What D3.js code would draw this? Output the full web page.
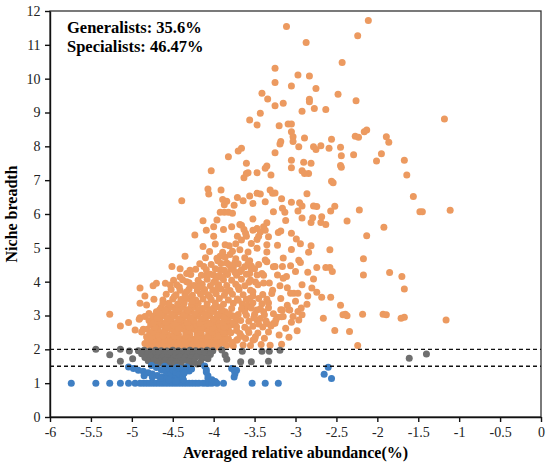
<!DOCTYPE html>
<html>
<head>
<meta charset="utf-8">
<script src="https://cdn.jsdelivr.net/npm/d3@7"></script>
<style>
  body { margin: 0; background: #fff; }
  svg text { font-family: "Liberation Serif", "Times New Roman", serif; }
  .tick text { font-size: 14px; fill: #222; }
  .tick line, .domain { stroke: #111; stroke-width: 1.4; }
</style>
</head>
<body>
<div id="chart"></div>
<script>
// Niche breadth vs averaged relative abundance

const xTicks = [-6, -5.5, -5, -4.5, -4, -3.5, -3, -2.5, -2, -1.5, -1, -0.5, 0];
const yTicks = [0, 1, 2, 3, 4, 5, 6, 7, 8, 9, 10, 11, 12];
const thresholds = [2, 1.5];
const labels = ["Generalists: 35.6%", "Specialists: 46.47%"];

// generalists (orange) - sparse outer points
const generalistsOuter = [
  [-3.11,11.54],[-2.11,11.72],[-2.24,11.27],[-2.87,11.07],[-2.43,10.48],[-3.25,10.31],[-2.97,10.11],[-2.83,10.08],
  [-3.25,9.89],[-3.05,9.78],[-2.75,9.71],[-3.41,9.57],[-2.48,9.54],[-3.34,9.40],[-2.26,9.35],[-2.83,9.39],[-2.83,9.32],
  [-3.15,9.27],[-3.25,9.20],[-2.77,9.12],[-2.63,9.09],[-2.92,9.04],[-3.43,8.98],[-1.18,8.81],[-3.56,8.78],[-3.20,8.61],
  [-3.09,8.66],[-3.05,8.66],[-3.47,8.63],[-3.05,8.43],[-2.16,8.43],[-2.13,8.48],[-3.03,8.28],[-2.27,8.30],[-2.23,8.27],
  [-1.89,8.28],[-2.89,8.25],[-2.56,8.21],[-3.03,8.14],[-3.18,8.14],[-3.19,8.07],[-1.86,8.12],[-2.69,8.02],[-2.96,7.99],
  [-2.78,7.99],[-2.45,7.97],[-3.66,7.94],[-2.59,7.94],[-2.75,7.91],[-3.70,7.86],[-3.25,7.81],[-1.95,7.78],[-2.29,7.75],
  [-2.44,7.72],[-3.82,7.69],[-1.67,7.59],[-3.05,7.59],[-2.01,7.57],[-2.90,7.53],[-2.81,7.50],[-3.60,7.50],[-2.45,7.43],
  [-3.35,7.42],[-2.44,7.38],[-3.05,7.37],[-3.37,7.35],[-4.03,7.28],[-2.92,7.28],[-3.47,7.22],[-3.58,7.22],[-2.84,7.20],
  [-2.89,7.20],[-3.60,7.20],[-1.64,7.15],[-3.30,7.15],[-3.63,7.07],[-2.56,6.97],[-2.54,6.92],[-4.07,6.74],[-3.31,6.71],
  [-3.91,6.71],[-3.25,6.62],[-3.28,6.61],[-3.47,6.61],[-2.86,6.60],[-4.06,6.59],[-3.43,6.59],[-3.56,6.53],[-1.56,6.52],
  [-3.71,6.49],[-3.17,6.45],[-3.89,6.43],[-4.39,6.39],[-3.64,6.39],[-3.84,6.38],[-3.37,6.36],[-3.05,6.35],[-2.95,6.33],
  [-3.52,6.31],[-3.87,6.27],[-3.75,6.26],[-2.92,6.24],[-2.78,6.24],[-2.52,6.23],[-2.74,6.22],[-3.16,6.17],[-2.22,6.12],
  [-1.11,6.11],[-2.57,6.09],[-2.97,6.09],[-3.27,6.07],[-1.48,6.07],[-1.45,6.07],[-3.13,6.05],[-3.92,6.05],[-3.87,6.05],
  [-3.82,6.05],[-3.77,6.02],[-2.68,5.92],[-2.79,5.89],[-2.92,5.88],[-3.52,5.85],[-3.96,5.82],[-3.12,5.81],[-4.13,5.80],
  [-2.37,5.79],[-2.69,5.75],[-2.81,5.75],[-3.35,5.74],[-2.63,5.69],[-3.68,5.69],[-3.66,5.67],[-3.39,5.62],[-4.00,5.62],
  [-3.78,5.62],[-1.92,5.61],[-3.47,5.57],[-3.88,5.54],[-3.63,5.54],[-4.09,5.52],[-3.52,5.52],[-3.37,5.52],[-3.18,5.50],
  [-3.43,5.47],[-3.21,5.45],[-3.05,5.43],[-3.61,5.43],[-2.13,5.36],[-4.23,5.38],[-4.00,5.34],[-3.71,5.34],[-3.60,5.34],
  [-3.45,5.34],[-3.33,5.33],[-2.99,5.26],[-3.47,5.25],[-3.66,5.23],[-3.54,5.13],[-2.94,5.12],[-3.35,5.09],[-3.22,5.08],
  [-2.81,5.06],[-3.81,5.06],[-4.13,5.04],[-3.47,4.99],[-2.58,4.94],[-3.68,4.94],[-2.84,4.87],[-4.35,4.75],[-3.92,4.75],
  [-2.17,4.68],[-3.37,4.64],[-2.96,4.63],[-3.56,4.62],[-3.35,4.59],[-2.94,4.57],[-3.74,4.57],[-3.84,4.55],[-3.58,4.54],
  [-3.06,4.47],[-3.54,4.46],[-3.16,4.45],[-3.25,4.45],[-4.51,4.45],[-3.27,4.44],[-2.74,4.42],[-2.63,4.42],[-2.58,4.42],
  [-3.76,4.42],[-3.54,4.39],[-4.41,4.38],[-3.92,4.35],[-2.55,4.30],[-3.68,4.29],[-2.85,4.28],[-1.85,4.27],[-3.41,4.24],
  [-3.56,4.24],[-2.17,4.20],[-4.00,4.20],[-3.39,4.19],[-1.70,4.15],[-3.11,4.15],[-3.15,4.10],[-2.78,4.08],[-4.49,4.04],
  [-4.33,4.00],[-3.49,3.99],[-3.32,3.96],[-3.39,3.96],[-4.17,3.95],[-4.59,3.95],[-4.70,3.95],[-2.92,3.91],[-4.53,3.90],
  [-3.19,3.88],[-4.74,3.88],[-2.80,3.81],[-4.90,3.81],[-1.67,3.78],[-3.52,3.70],[-2.74,3.69],[-3.06,3.66],[-3.02,3.66],
  [-2.97,3.66],[-3.29,3.65],[-2.85,3.58],[-4.84,3.58],[-2.68,3.54],[-2.57,3.54],[-3.56,3.50],[-4.73,3.48],[-4.62,3.46],
  [-3.70,3.45],[-3.33,3.37],[-4.90,3.36],[-2.86,3.33],[-4.82,3.31],[-3.58,3.30],[-2.45,3.30],[-3.60,3.25],[-3.18,3.17],
  [-3.08,3.17],[-4.66,3.17],[-3.16,3.16],[-3.07,3.16],[-3.47,3.16],[-2.97,3.12],[-3.39,3.11],[-4.79,3.06],[-5.27,3.04],
  [-2.39,3.04],[-2.18,3.04],[-1.93,3.04],[-2.42,3.02],[-2.92,3.02],[-1.89,3.02],[-4.70,3.02],[-2.37,2.99],[-3.03,2.97],
  [-3.15,2.97],[-3.17,2.96],[-1.67,2.95],[-4.84,2.97],[-4.90,2.93],[-2.66,2.92],[-1.71,2.92],[-3.43,2.91],[-4.91,2.89],
  [-1.16,2.87],[-2.96,2.87],[-4.76,2.79],[-5.04,2.79],[-3.25,2.77],[-3.27,2.76],[-3.35,2.76],[-3.84,2.71],[-5.14,2.69],
  [-4.86,2.59],[-4.96,2.57],[-2.52,2.56],[-3.72,2.56],[-2.34,2.53],[-4.88,2.51],[-4.74,2.48],[-3.49,2.37],[-4.82,2.37],
  [-3.08,2.36],[-4.73,2.28],[-3.52,2.27],[-3.72,2.27],[-3.86,2.17],[-4.84,2.17],[-3.17,2.15],[-3.31,2.12],[-2.24,2.11],
  [-4.41,4.14],[-4.33,4.24],[-4.29,4.34],[-4.09,4.19],[-3.95,4.14],[-3.85,4.24],
  [-3.20,2.42],[-3.12,2.62],[-3.05,2.80],[-2.98,2.55],[-3.22,2.95],[-3.10,3.30],[-3.00,3.42],[-2.93,3.22],[-3.18,3.50],
  [-3.28,3.75],[-3.10,3.82],[-3.22,4.20],[-3.00,4.30],[-3.35,4.88],[-3.15,4.70],[-3.05,4.95]
];

// generalists (orange) - dense cloud
const generalistsCore = [
  [-4.80,2.06],[-4.73,2.08],[-4.65,2.05],[-4.59,2.09],[-4.51,2.06],[-4.45,2.08],[-4.36,2.05],[-4.31,2.09],[-4.22,2.06],[-4.17,2.08],[-4.08,2.05],[-4.02,2.09],[-3.94,2.07],
  [-4.77,2.20],[-4.69,2.18],[-4.63,2.21],[-4.55,2.19],[-4.47,2.22],[-4.42,2.18],[-4.33,2.20],[-4.28,2.22],[-4.19,2.18],[-4.13,2.21],[-4.05,2.19],[-3.99,2.22],[-3.91,2.19],
  [-4.81,2.33],[-4.72,2.31],[-4.67,2.34],[-4.58,2.32],[-4.53,2.30],[-4.44,2.34],[-4.38,2.31],[-4.30,2.33],[-4.24,2.30],[-4.16,2.34],[-4.11,2.32],[-4.02,2.30],[-3.97,2.34],[-3.88,2.31],
  [-4.78,2.46],[-4.70,2.44],[-4.64,2.47],[-4.56,2.43],[-4.48,2.46],[-4.43,2.44],[-4.34,2.47],[-4.29,2.44],[-4.20,2.46],[-4.15,2.43],[-4.06,2.47],[-4.01,2.45],[-3.92,2.43],[-3.86,2.47],
  [-4.81,2.59],[-4.73,2.57],[-4.68,2.60],[-4.60,2.56],[-4.52,2.59],[-4.47,2.57],[-4.38,2.60],[-4.33,2.57],[-4.24,2.59],[-4.19,2.56],[-4.10,2.60],[-4.05,2.58],[-3.96,2.56],[-3.91,2.60],[-3.82,2.58],
  [-4.77,2.72],[-4.69,2.70],[-4.63,2.73],[-4.54,2.69],[-4.49,2.72],[-4.40,2.70],[-4.35,2.73],[-4.26,2.69],[-4.21,2.72],[-4.12,2.70],[-4.07,2.73],[-3.98,2.69],[-3.93,2.72],[-3.84,2.70],[-3.78,2.73],
  [-4.79,2.85],[-4.71,2.83],[-4.66,2.86],[-4.57,2.82],[-4.52,2.85],[-4.43,2.83],[-4.38,2.86],[-4.29,2.82],[-4.24,2.85],[-4.15,2.83],[-4.10,2.86],[-4.01,2.82],[-3.96,2.85],[-3.87,2.83],[-3.82,2.86],[-3.73,2.84],
  [-4.74,2.98],[-4.66,2.96],[-4.61,2.99],[-4.52,2.95],[-4.47,2.98],[-4.38,2.96],[-4.33,2.99],[-4.24,2.95],[-4.19,2.98],[-4.10,2.96],[-4.05,2.99],[-3.96,2.95],[-3.91,2.98],[-3.82,2.96],[-3.77,2.99],
  [-4.70,3.11],[-4.61,3.09],[-4.56,3.12],[-4.47,3.08],[-4.42,3.11],[-4.33,3.09],[-4.28,3.12],[-4.19,3.08],[-4.14,3.11],[-4.05,3.09],[-4.00,3.12],[-3.91,3.08],[-3.86,3.11],
  [-4.64,3.24],[-4.56,3.22],[-4.51,3.25],[-4.42,3.21],[-4.37,3.24],[-4.28,3.22],[-4.23,3.25],[-4.14,3.21],[-4.09,3.24],[-4.00,3.22],[-3.95,3.25],
  [-4.76,2.13],[-4.61,2.14],[-4.48,2.12],[-4.39,2.14],[-4.26,2.13],[-4.11,2.12],[-3.97,2.14],
  [-4.74,2.26],[-4.60,2.27],[-4.50,2.25],[-4.35,2.27],[-4.21,2.26],[-4.08,2.25],[-3.93,2.27],
  [-4.75,2.39],[-4.62,2.40],[-4.48,2.38],[-4.34,2.40],[-4.20,2.39],[-4.07,2.38],[-3.94,2.40],
  [-4.74,2.52],[-4.60,2.53],[-4.45,2.51],[-4.31,2.53],[-4.16,2.52],[-4.02,2.51],[-3.88,2.53],
  [-4.72,2.65],[-4.57,2.66],[-4.43,2.64],[-4.30,2.66],[-4.15,2.65],[-4.01,2.64],[-3.87,2.66],
  [-4.74,2.78],[-4.59,2.79],[-4.46,2.77],[-4.32,2.79],[-4.17,2.78],[-4.04,2.77],[-3.89,2.79],[-3.76,2.78],
  [-4.69,2.91],[-4.55,2.92],[-4.42,2.90],[-4.28,2.92],[-4.14,2.91],[-4.00,2.90],[-3.86,2.92],
  [-4.64,3.04],[-4.51,3.05],[-4.37,3.03],[-4.23,3.05],[-4.09,3.04],[-3.95,3.03],[-3.81,3.05],
  [-4.59,3.17],[-4.46,3.18],[-4.32,3.16],[-4.18,3.18],[-4.04,3.17],[-3.90,3.16],
  [-4.55,3.36],[-4.44,3.34],[-4.36,3.37],[-4.27,3.33],[-4.19,3.36],[-4.08,3.34],[-3.98,3.37],[-3.88,3.33],[-3.76,3.36],[-3.65,3.34],[-3.52,3.37],[-3.41,3.35],
  [-4.50,3.49],[-4.40,3.47],[-4.31,3.50],[-4.22,3.46],[-4.13,3.49],[-4.03,3.47],[-3.93,3.50],[-3.82,3.46],[-3.71,3.49],[-3.60,3.47],[-3.45,3.50],
  [-4.58,3.63],[-4.46,3.61],[-4.35,3.64],[-4.26,3.60],[-4.16,3.63],[-4.07,3.61],[-3.97,3.64],[-3.87,3.60],[-3.77,3.63],[-3.64,3.61],[-3.40,3.62],
  [-4.52,3.77],[-4.41,3.75],[-4.30,3.78],[-4.20,3.74],[-4.11,3.77],[-4.01,3.75],[-3.91,3.78],[-3.80,3.74],[-3.69,3.77],[-3.55,3.75],
  [-4.45,3.91],[-4.24,3.89],[-4.14,3.92],[-4.04,3.88],[-3.94,3.91],[-3.84,3.89],[-3.73,3.92],[-3.62,3.88],[-3.46,3.91],
  [-4.38,4.06],[-4.19,4.04],[-4.08,4.07],[-3.98,4.03],[-3.88,4.06],[-3.78,4.04],[-3.66,4.07],[-3.55,4.05],
  [-4.28,4.21],[-4.15,4.19],[-4.04,4.22],[-3.93,4.18],[-3.83,4.21],[-3.72,4.19],[-3.60,4.22],[-3.47,4.20],
  [-4.22,4.37],[-4.09,4.35],[-3.98,4.38],[-3.87,4.34],[-3.79,4.37],[-3.66,4.35],[-3.50,4.38],
  [-4.17,4.53],[-4.03,4.51],[-3.91,4.54],[-3.81,4.50],[-3.70,4.53],[-3.45,4.51],
  [-4.10,4.71],[-3.96,4.69],[-3.86,4.72],[-3.73,4.68],[-3.62,4.71],
  [-4.05,4.89],[-3.89,4.87],[-3.77,4.90],[-3.58,4.88],
  [-3.98,5.11],[-3.86,5.09],[-3.73,5.12],
  [-4.48,3.56],[-4.33,3.70],[-4.18,3.84],[-4.00,3.98],[-3.90,4.12],[-3.74,4.28],[-3.62,4.44],[-4.12,4.45],[-3.95,4.62],
  [-3.80,4.80],[-4.26,3.42],[-4.05,3.56],[-3.85,3.70],[-3.70,3.84],[-3.57,3.98],[-4.42,3.84],[-4.30,3.97],[-3.52,3.58],
  [-3.35,3.48],[-4.62,3.36],[-4.12,3.70],[-3.95,3.82],[-4.35,3.55],
  [-3.84,2.12],[-3.76,2.10],[-3.64,2.13],[-3.55,2.11],[-3.42,2.14],
  [-3.82,2.31],[-3.71,2.29],[-3.61,2.32],[-3.50,2.30],[-3.38,2.33],
  [-3.79,2.49],[-3.68,2.47],[-3.57,2.50],[-3.46,2.48],[-3.33,2.51],
  [-3.72,2.67],[-3.62,2.65],[-3.52,2.68],[-3.40,2.66],[-3.30,2.69],
  [-3.67,2.85],[-3.57,2.83],[-3.47,2.86],[-3.36,2.84],[-3.24,2.87],
  [-3.70,3.03],[-3.60,3.01],[-3.50,3.04],[-3.38,3.02],[-3.27,3.05],
  [-3.78,3.21],[-3.66,3.19],[-3.54,3.22],[-3.43,3.20],[-3.33,3.23],
  [-3.77,2.20],[-3.66,2.39],[-3.58,2.58],[-3.73,2.93],[-3.62,3.12],[-3.45,2.75],[-3.51,2.93]
];

// neither (gray), between the two thresholds
const neutral = [
  [-5.44,2.00],[-5.27,1.84],[-5.14,2.00],[-5.14,1.65],[-5.03,1.95],[-4.99,1.72],[-3.90,1.98],[-3.86,1.83],[-3.84,1.71],
  [-3.65,1.94],[-3.67,1.63],[-3.54,1.63],[-3.41,1.94],[-3.33,1.65],[-3.32,1.94],[-3.19,1.97],[-1.61,1.74],[-1.40,1.86],
  [-4.92,1.96],[-4.85,1.97],[-4.78,1.95],[-4.71,1.97],[-4.64,1.96],[-4.57,1.95],[-4.50,1.97],[-4.43,1.96],[-4.36,1.95],
  [-4.29,1.97],[-4.22,1.96],[-4.15,1.95],[-4.08,1.97],[-4.01,1.96],
  [-4.88,1.87],[-4.81,1.85],[-4.74,1.86],[-4.67,1.88],[-4.60,1.85],[-4.53,1.87],[-4.46,1.86],[-4.39,1.84],[-4.32,1.87],
  [-4.25,1.85],[-4.18,1.86],[-4.11,1.88],[-4.04,1.85],
  [-4.84,1.76],[-4.77,1.77],[-4.70,1.75],[-4.63,1.77],[-4.56,1.76],[-4.49,1.74],[-4.42,1.77],[-4.35,1.75],[-4.28,1.76],
  [-4.21,1.78],[-4.14,1.74],[-4.07,1.72],
  [-4.80,1.66],[-4.73,1.67],[-4.66,1.65],[-4.59,1.67],[-4.52,1.66],[-4.45,1.64],[-4.38,1.67],[-4.31,1.65],[-4.24,1.63],
  [-4.16,1.61],
  [-4.76,1.57],[-4.68,1.58],[-4.61,1.56],[-4.54,1.58],[-4.47,1.57],[-4.40,1.56],[-4.30,1.55],[-4.20,1.57]
];

// specialists (blue), below the lower threshold
const specialists = [
  [-5.74,1.00],[-5.44,1.00],[-5.27,1.00],[-5.14,1.00],[-5.04,1.00],[-4.96,1.00],[-4.90,1.00],[-4.86,1.00],[-4.82,1.00],
  [-4.78,1.00],[-4.74,1.00],[-4.70,1.00],[-4.66,1.00],[-4.62,1.00],[-4.58,1.00],[-4.54,1.00],[-4.50,1.00],[-4.46,1.00],
  [-4.42,1.00],[-4.38,1.00],[-4.34,1.00],[-4.30,1.00],[-4.26,1.00],[-4.22,1.00],[-4.18,1.00],[-4.13,1.00],[-4.09,1.00],
  [-4.06,1.00],[-4.02,1.00],[-3.96,1.00],[-3.88,1.00],[-3.53,1.00],[-3.37,1.00],[-3.21,1.00],
  [-5.04,1.48],[-4.98,1.43],[-4.92,1.38],[-4.86,1.35],[-4.80,1.31],[-4.75,1.27],[-4.69,1.23],[-4.63,1.19],[-4.57,1.15],
  [-4.51,1.11],[-4.45,1.07],
  [-4.76,1.52],[-4.70,1.46],[-4.64,1.40],[-4.58,1.34],[-4.52,1.28],[-4.46,1.22],[-4.41,1.16],[-4.37,1.10],
  [-4.60,1.50],[-4.55,1.44],[-4.50,1.38],[-4.46,1.32],[-4.42,1.27],[-4.38,1.20],
  [-4.45,1.46],[-4.41,1.43],[-4.37,1.40],[-4.33,1.48],[-4.30,1.36],[-4.36,1.30],[-4.27,1.42],
  [-4.85,1.22],[-4.75,1.18],[-4.65,1.14],[-4.55,1.10],[-4.46,1.06],
  [-4.11,1.51],[-4.09,1.40],[-4.09,1.33],[-4.07,1.22],[-4.07,1.14],[-4.02,1.10],[-3.98,1.05],
  [-3.78,1.43],[-3.75,1.38],[-3.72,1.38],[-3.74,1.28],[-3.75,1.18],
  [-2.60,1.47],[-2.65,1.26],[-2.56,1.14]
];

const width = 550, height = 466;
const margin = { top: 11, right: 9, bottom: 49, left: 50 };
const serif = '"Liberation Serif", "Times New Roman", serif';

const svg = d3.select("#chart").append("svg")
  .attr("width", width)
  .attr("height", height);

const x = d3.scaleLinear().domain([-6, 0]).range([margin.left, width - margin.right]);
const y = d3.scaleLinear().domain([0, 12]).range([height - margin.bottom, margin.top]);

// frame on top / right
svg.append("rect")
  .attr("x", x(-6)).attr("y", y(12))
  .attr("width", x(0) - x(-6)).attr("height", y(0) - y(12))
  .attr("fill", "none")
  .attr("stroke", "#333")
  .attr("stroke-width", 1.3);

// points
function drawPoints(data, color) {
  svg.append("g").selectAll("circle")
    .data(data)
    .join("circle")
    .attr("cx", d => x(d[0]))
    .attr("cy", d => y(d[1]))
    .attr("r", 3.5)
    .attr("fill", color);
}
drawPoints(generalistsOuter, "#EC9A60");
drawPoints(generalistsCore, "#EC9A60");
drawPoints(neutral, "#6F6F6F");
drawPoints(specialists, "#3F7FC3");

// threshold lines
svg.append("g").selectAll("line")
  .data(thresholds)
  .join("line")
  .attr("x1", x(-6)).attr("x2", x(0))
  .attr("y1", d => y(d)).attr("y2", d => y(d))
  .attr("stroke", "#111")
  .attr("stroke-width", 1.3)
  .attr("stroke-dasharray", "4,3");

// axes
svg.append("g")
  .attr("transform", `translate(0,${y(0)})`)
  .call(d3.axisBottom(x).tickValues(xTicks).tickFormat(d => String(d)).tickSize(5).tickSizeOuter(0))
  .attr("font-family", serif)
  .call(g => g.selectAll(".tick text").attr("dy", "0.85em"));

svg.append("g")
  .attr("transform", `translate(${x(-6)},0)`)
  .call(d3.axisLeft(y).tickValues(yTicks).tickFormat(d => String(d)).tickSize(5).tickSizeOuter(0))
  .attr("font-family", serif)
  .call(g => g.selectAll(".tick text").attr("dx", "-0.1em"));

// axis titles
svg.append("text")
  .attr("x", (x(-6) + x(0)) / 2)
  .attr("y", 458)
  .attr("text-anchor", "middle")
  .style("font-family", serif)
  .style("font-size", "16px")
  .style("font-weight", "bold")
  .text("Averaged relative abundance(%)");

svg.append("text")
  .attr("transform", `translate(17,${(y(0) + y(12)) / 2}) rotate(-90)`)
  .attr("text-anchor", "middle")
  .style("font-family", serif)
  .style("font-size", "16px")
  .style("font-weight", "bold")
  .text("Niche breadth");

// annotation
svg.append("g").selectAll("text")
  .data(labels)
  .join("text")
  .attr("x", 67)
  .attr("y", (d, i) => 33 + i * 18.7)
  .style("font-family", serif)
  .style("font-size", "16.5px")
  .style("font-weight", "bold")
  .text(d => d);
</script>
</body>
</html>
